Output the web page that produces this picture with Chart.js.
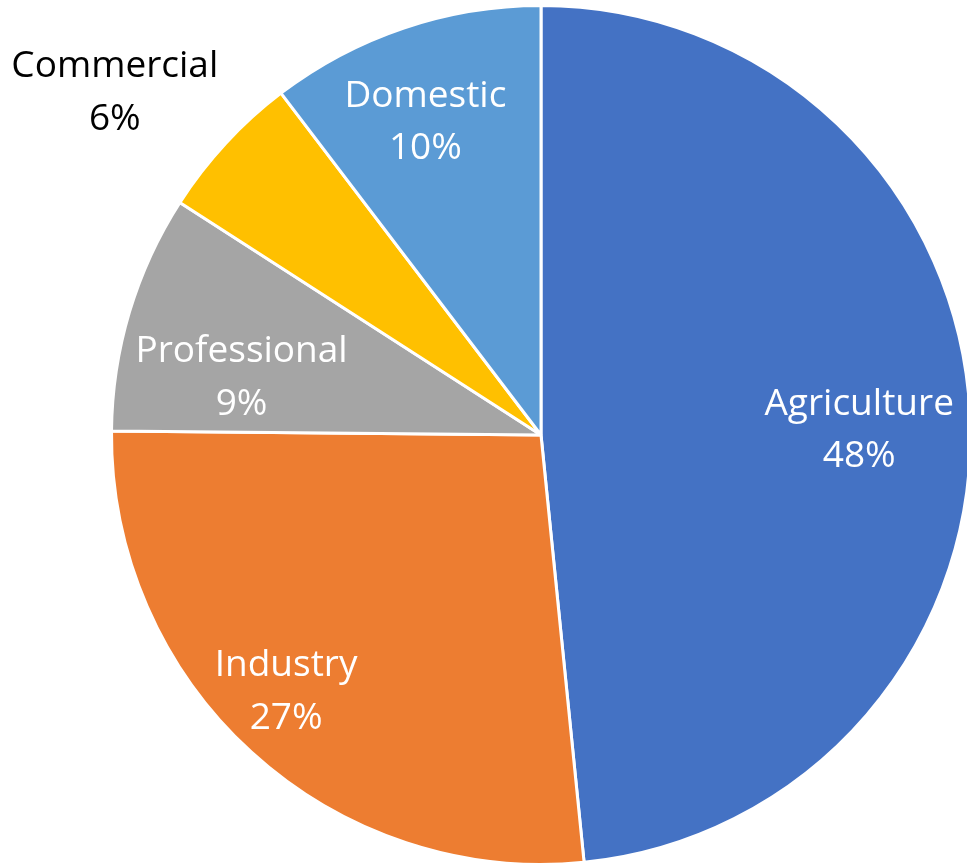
<!DOCTYPE html>
<html>
<head>
<meta charset="utf-8">
<script src="https://cdn.jsdelivr.net/npm/chart.js@4/dist/chart.umd.min.js"></script>
<style>
html,body{margin:0;padding:0;background:#fff;overflow:hidden;width:967px;height:863px;}
#wrap{position:absolute;left:0;top:0;width:980px;height:880px;}
</style>
</head>
<body>
<div id="wrap"><canvas id="c" width="980" height="880"></canvas></div>
<script>
const categories = ['Agriculture', 'Industry', 'Professional', 'Commercial', 'Domestic'];
const values = [48.4, 26.75, 8.95, 5.55, 10.35];
const percentLabels = ['48%', '27%', '9%', '6%', '10%'];
const colors = ['#4472C4', '#ED7D31', '#A5A5A5', '#FFC000', '#5B9BD5'];

// label placement: radial factor and angle shift (deg) relative to slice mid angle
const labelPlacement = [
  {r: 0.741, da: 1.6, color: '#ffffff'},
  {r: 0.838, da: 2.7, color: '#ffffff'},
  {r: 0.711, da: -5.35, color: '#ffffff'},
  {r: 1.276, da: -3.8, color: '#000000'},
  {r: 0.782, da: -1.5, color: '#ffffff'}
];

const FONT = '37px "Open Sans", Carlito, Calibri, Lato, sans-serif';

const labelPlugin = {
  id: 'sliceLabels',
  afterDatasetsDraw(chart) {
    const ctx = chart.ctx;
    const meta = chart.getDatasetMeta(0);
    ctx.save();
    ctx.font = FONT;
    ctx.textAlign = 'center';
    ctx.textBaseline = 'alphabetic';
    meta.data.forEach((arc, i) => {
      const p = labelPlacement[i];
      const mid = (arc.startAngle + arc.endAngle) / 2 + p.da * Math.PI / 180;
      const rad = arc.outerRadius * p.r;
      const x = arc.x + Math.cos(mid) * rad;
      const y = arc.y + Math.sin(mid) * rad;
      ctx.fillStyle = p.color;
      ctx.fillText(categories[i], x, y - 13);
      ctx.fillText(percentLabels[i], x, y + 39.5);
    });
    ctx.restore();
  }
};

new Chart(document.getElementById('c'), {
  type: 'pie',
  data: {
    labels: categories,
    datasets: [{
      data: values,
      backgroundColor: colors,
      borderColor: '#ffffff',
      borderWidth: 3
    }]
  },
  options: {
    responsive: false,
    animation: false,
    layout: {padding: {left: 110, right: 8, top: 4, bottom: 14}},
    plugins: {legend: {display: false}, tooltip: {enabled: false}}
  },
  plugins: [labelPlugin]
});
</script>
</body>
</html>
